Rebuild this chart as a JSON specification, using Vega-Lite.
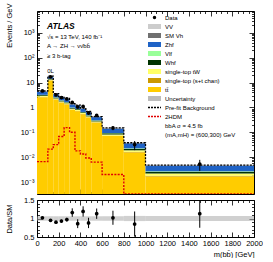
{
  "$schema": "https://vega.github.io/schema/vega-lite/v6.json",
  "padding": {"left": 4, "top": 2, "right": 0, "bottom": 0},
  "background": "white",
  "bounds": "flush",
  "spacing": 6,
  "config": {
    "view": {"stroke": "black", "strokeWidth": 1},
    "font": "Liberation Sans",
    "axis": {"labelFont": "Liberation Sans", "labelFontSize": 7.5, "labelColor": "black", "tickColor": "black", "tickWidth": 0.8, "domain": false, "grid": false, "titleFont": "Liberation Sans", "titleFontSize": 7.5, "titleFontWeight": "normal", "titleColor": "black", "labelFlush": false, "labelOverlap": false, "labelBound": false, "labelPadding": 8}
  },
  "datasets": {
    "bins": [
      {"lo": 0, "hi": 100, "c": 50, "data": 4.6, "derr": 0.135, "ratio": 1.02, "rerr": 0.03, "ulo": 4.23, "uhi": 4.77, "rlo": 0.94, "rhi": 1.06, "prefit": 4.6, "sig": 0.0066, "tt̄": 2.6, "single-top (s+t chan)": 0.09, "single-top tW": 0.225, "Whf": 0.225, "Vlf": 0.09, "Zhf": 1.18, "SM Vh": 0.045, "VV": 0.045},
      {"lo": 100, "hi": 150, "c": 125, "data": 17, "derr": 0.45, "ratio": 0.95, "rerr": 0.025, "ulo": 16.83, "uhi": 18.97, "rlo": 0.94, "rhi": 1.06, "prefit": 18.3, "sig": 0.021, "tt̄": 12.2, "single-top (s+t chan)": 0.36, "single-top tW": 0.72, "Whf": 0.72, "Vlf": 0.36, "Zhf": 3.18, "SM Vh": 0.18, "VV": 0.18, "note": "0L"},
      {"lo": 150, "hi": 200, "c": 175, "data": 3.2, "derr": 0.124, "ratio": 0.9, "rerr": 0.035, "ulo": 3.35, "uhi": 3.77, "rlo": 0.94, "rhi": 1.06, "prefit": 3.6, "sig": 0.032, "tt̄": 2.06, "single-top (s+t chan)": 0.07, "single-top tW": 0.18, "Whf": 0.18, "Vlf": 0.07, "Zhf": 0.93, "SM Vh": 0.036, "VV": 0.036},
      {"lo": 200, "hi": 250, "c": 225, "data": 2.5, "derr": 0.108, "ratio": 0.93, "rerr": 0.04, "ulo": 2.53, "uhi": 2.85, "rlo": 0.94, "rhi": 1.06, "prefit": 2.75, "sig": 0.068, "tt̄": 1.56, "single-top (s+t chan)": 0.054, "single-top tW": 0.135, "Whf": 0.135, "Vlf": 0.054, "Zhf": 0.70, "SM Vh": 0.027, "VV": 0.027},
      {"lo": 250, "hi": 300, "c": 275, "data": 2.2, "derr": 0.113, "ratio": 0.97, "rerr": 0.05, "ulo": 2.13, "uhi": 2.41, "rlo": 0.94, "rhi": 1.06, "prefit": 2.3, "sig": 0.155, "tt̄": 1.316, "single-top (s+t chan)": 0.045, "single-top tW": 0.114, "Whf": 0.114, "Vlf": 0.045, "Zhf": 0.59, "SM Vh": 0.023, "VV": 0.023},
      {"lo": 300, "hi": 350, "c": 325, "data": 1.6, "derr": 0.159, "ratio": 1.16, "rerr": 0.115, "ulo": 1.3, "uhi": 1.46, "rlo": 0.94, "rhi": 1.06, "prefit": 1.42, "sig": 0.1, "tt̄": 0.80, "single-top (s+t chan)": 0.028, "single-top tW": 0.069, "Whf": 0.069, "Vlf": 0.028, "Zhf": 0.358, "SM Vh": 0.014, "VV": 0.014},
      {"lo": 350, "hi": 400, "c": 375, "data": 1.05, "derr": 0.147, "ratio": 0.86, "rerr": 0.12, "ulo": 1.15, "uhi": 1.29, "rlo": 0.94, "rhi": 1.06, "prefit": 1.25, "sig": 0.018, "tt̄": 0.706, "single-top (s+t chan)": 0.024, "single-top tW": 0.061, "Whf": 0.061, "Vlf": 0.024, "Zhf": 0.32, "SM Vh": 0.012, "VV": 0.012},
      {"lo": 400, "hi": 450, "c": 425, "data": 1.1, "derr": 0.129, "ratio": 1.19, "rerr": 0.14, "ulo": 0.865, "uhi": 0.975, "rlo": 0.94, "rhi": 1.06, "prefit": 0.95, "sig": 0.0135, "tt̄": 0.534, "single-top (s+t chan)": 0.018, "single-top tW": 0.046, "Whf": 0.046, "Vlf": 0.018, "Zhf": 0.24, "SM Vh": 0.009, "VV": 0.009},
      {"lo": 450, "hi": 500, "c": 475, "data": 0.6, "derr": 0.095, "ratio": 0.88, "rerr": 0.14, "ulo": 0.64, "uhi": 0.72, "rlo": 0.94, "rhi": 1.06, "prefit": 0.7, "sig": 0.0093, "tt̄": 0.39, "single-top (s+t chan)": 0.014, "single-top tW": 0.034, "Whf": 0.034, "Vlf": 0.014, "Zhf": 0.18, "SM Vh": 0.007, "VV": 0.007},
      {"lo": 500, "hi": 600, "c": 550, "data": 0.48, "derr": 0.059, "ratio": 1.13, "rerr": 0.14, "ulo": 0.4, "uhi": 0.45, "rlo": 0.94, "rhi": 1.06, "prefit": 0.43, "sig": 0.0063, "tt̄": 0.2454, "single-top (s+t chan)": 0.0085, "single-top tW": 0.021, "Whf": 0.021, "Vlf": 0.0085, "Zhf": 0.112, "SM Vh": 0.0043, "VV": 0.0043},
      {"lo": 600, "hi": 800, "c": 700, "data": 0.15, "derr": 0.028, "ratio": 1.02, "rerr": 0.19, "ulo": 0.138, "uhi": 0.156, "rlo": 0.94, "rhi": 1.06, "prefit": 0.15, "sig": 0.002, "tt̄": 0.0704, "single-top (s+t chan)": 0.003, "single-top tW": 0.0088, "Whf": 0.0088, "Vlf": 0.003, "Zhf": 0.05, "SM Vh": 0.0015, "VV": 0.0015},
      {"lo": 800, "hi": 1000, "c": 900, "data": 0.032, "derr": 0.0128, "ratio": 0.85, "rerr": 0.34, "ulo": 0.0353, "uhi": 0.0399, "rlo": 0.93, "rhi": 1.07, "prefit": 0.038, "sig": 0.0001, "tt̄": 0.01555, "single-top (s+t chan)": 0.00075, "single-top tW": 0.0026, "Whf": 0.0026, "Vlf": 0.0011, "Zhf": 0.0142, "SM Vh": 0.0004, "VV": 0.0004},
      {"lo": 1000, "hi": 2000, "c": 1500, "data": 0.0053, "derr": 0.0025, "ratio": 1.13, "rerr": 0.38, "ulo": 0.0044, "uhi": 0.005, "rlo": 0.93, "rhi": 1.07, "prefit": 0.0048, "sig": 0.0001, "tt̄": 0.00168, "single-top (s+t chan)": 0.0001, "single-top tW": 0.00042, "Whf": 0.00038, "Vlf": 0.00014, "Zhf": 0.00188, "SM Vh": 0.00005, "VV": 0.00005}
    ]
  },
  "vconcat": [
    {
      "width": 217,
      "height": 183,
      "title": {"text": "ATLAS", "subtitle": ["√s = 13 TeV, 140 fb⁻¹", "A → ZH → νν̄bb̄", " ", "≥ 3 b-tag"], "anchor": "start", "frame": "group", "orient": "top", "font": "Liberation Sans", "fontSize": 8.5, "fontStyle": "italic", "fontWeight": "bold", "color": "black", "subtitleFont": "Liberation Sans", "subtitleFontSize": 6, "subtitleColor": "black", "subtitleLineHeight": 9.4, "subtitlePadding": 3, "offset": 0, "dx": 10, "dy": 65},
      "data": {"name": "bins"},
      "layer": [
        {
          "transform": [
            {"fold": ["tt̄", "single-top (s+t chan)", "single-top tW", "Whf", "Vlf", "Zhf", "SM Vh", "VV"], "as": ["proc", "v"]},
            {"window": [{"op": "row_number", "as": "k"}], "groupby": ["lo"]},
            {"stack": "v", "groupby": ["lo"], "sort": [{"field": "k", "order": "ascending"}], "as": ["v0", "v1"]}
          ],
          "mark": {"type": "bar", "clip": true},
          "encoding": {
            "x": {"field": "lo", "type": "quantitative", "scale": {"domain": [0, 2000], "nice": false, "zero": false},
                  "axis": {"orient": "bottom", "values": [0,50,100,150,200,250,300,350,400,450,500,550,600,650,700,750,800,850,900,950,1000,1050,1100,1150,1200,1250,1300,1350,1400,1450,1500,1550,1600,1650,1700,1750,1800,1850,1900,1950,2000], "labels": false, "title": null, "tickSize": {"condition": {"test": "datum.value % 200 == 0", "value": -5}, "value": -2.5}}},
            "x2": {"field": "hi"},
            "y": {"field": "v1", "type": "quantitative", "scale": {"type": "log", "domain": [0.00033, 7600], "clamp": true, "nice": false},
                  "axis": {"orient": "left", "values": [0.0004,0.0005,0.0006,0.0007,0.0008,0.0009,0.001,0.002,0.003,0.004,0.005,0.006,0.007,0.008,0.009,0.01,0.02,0.03,0.04,0.05,0.06,0.07,0.08,0.09,0.1,0.2,0.3,0.4,0.5,0.6,0.7,0.8,0.9,1,2,3,4,5,6,7,8,9,10,20,30,40,50,60,70,80,90,100,200,300,400,500,600,700,800,900,1000,2000,3000,4000,5000,6000,7000],
                           "labelExpr": "abs(log(datum.value)/LN10 - round(log(datum.value)/LN10)) < 0.01 ? (datum.value == 1 ? '1' : datum.value == 10 ? '10' : '10' + (datum.value < 1 ? '⁻' : '') + ['⁰','¹','²','³','⁴'][abs(round(log(datum.value)/LN10))]) : ''",
                           "tickSize": {"condition": {"test": "abs(log(datum.value)/LN10 - round(log(datum.value)/LN10)) < 0.01", "value": -5}, "value": -2.5},
                           "title": "Events / GeV", "titleX": -28, "titleY": -8, "titleAlign": "right", "titleBaseline": "middle", "titleAngle": 270}},
            "y2": {"field": "v0"},
            "color": {"field": "proc", "type": "nominal",
                      "scale": {"domain": ["Data", "VV", "SM Vh", "Zhf", "Vlf", "Whf", "single-top tW", "single-top (s+t chan)", "tt̄", "Uncertainty", "Pre-fit Background", "2HDM", "bbA σ = 4.5 fb", "(mA,mH) = (600,300) GeV"],
                                "range": ["black", "#cccccc", "#707070", "#1f63c6", "#99ff99", "#003300", "#ffff66", "#cc9900", "#ffcc00", "#bbbbbb", "black", "#e00000", "transparent", "transparent"]},
                      "legend": {"orient": "none", "legendX": 114, "legendY": 3, "title": null, "direction": "vertical", "gridAlign": "all", "labelFont": "Liberation Sans", "labelFontSize": 6, "labelColor": "black", "labelOffset": 7, "symbolSize": 25, "rowPadding": -4.8, "padding": 0, "labelLimit": 200,
                                 "encode": {"symbols": {"update": {
                                   "shape": {"signal": "datum.value == 'Data' ? 'circle' : (datum.value == 'Pre-fit Background' || datum.value == '2HDM') ? 'M-2.6,0H2.6' : (datum.value == 'bbA σ = 4.5 fb' || datum.value == '(mA,mH) = (600,300) GeV') ? 'M0,0' : 'M-2.6,-1H2.6V1H-2.6Z'"},
                                   "size": {"signal": "datum.value == 'Data' ? 12 : 25"},
                                   "stroke": {"signal": "datum.value == 'Pre-fit Background' ? 'black' : datum.value == '2HDM' ? '#e00000' : 'transparent'"},
                                   "strokeDash": {"signal": "(datum.value == 'Pre-fit Background' || datum.value == '2HDM') ? [2, 1] : [1, 0]"},
                                   "strokeWidth": {"value": 1.5},
                                   "fillOpacity": {"signal": "(datum.value == 'Pre-fit Background' || datum.value == '2HDM') ? 0 : 1"},
                                   "opacity": {"value": 1}
                                 }}}}}
          }
        },
        {
          "mark": {"type": "rect", "fill": "#bbbbbb", "opacity": 0.55, "clip": true},
          "encoding": {
            "x": {"field": "lo", "type": "quantitative", "scale": {"domain": [0, 2000], "nice": false, "zero": false},
                  "axis": {"orient": "top", "values": [0,50,100,150,200,250,300,350,400,450,500,550,600,650,700,750,800,850,900,950,1000,1050,1100,1150,1200,1250,1300,1350,1400,1450,1500,1550,1600,1650,1700,1750,1800,1850,1900,1950,2000], "labels": false, "title": null, "tickSize": {"condition": {"test": "datum.value % 200 == 0", "value": -5}, "value": -2.5}}},
            "x2": {"field": "hi"},
            "y": {"field": "ulo", "type": "quantitative", "scale": {"type": "log", "domain": [0.00033, 7600], "clamp": true, "nice": false},
                  "axis": {"orient": "right", "values": [0.0004,0.0005,0.0006,0.0007,0.0008,0.0009,0.001,0.002,0.003,0.004,0.005,0.006,0.007,0.008,0.009,0.01,0.02,0.03,0.04,0.05,0.06,0.07,0.08,0.09,0.1,0.2,0.3,0.4,0.5,0.6,0.7,0.8,0.9,1,2,3,4,5,6,7,8,9,10,20,30,40,50,60,70,80,90,100,200,300,400,500,600,700,800,900,1000,2000,3000,4000,5000,6000,7000], "labels": false, "title": null,
                           "tickSize": {"condition": {"test": "abs(log(datum.value)/LN10 - round(log(datum.value)/LN10)) < 0.01", "value": -5}, "value": -2.5}}},
            "y2": {"field": "uhi"}
          }
        },
        {
          "transform": [{"fold": ["lo", "hi"], "as": ["edgeKey", "edge"]}],
          "mark": {"type": "line", "color": "black", "strokeWidth": 1.3, "strokeDash": [2, 1.3], "clip": true},
          "encoding": {
            "x": {"field": "edge", "type": "quantitative", "scale": {"domain": [0, 2000], "nice": false, "zero": false}, "axis": null},
            "y": {"field": "prefit", "type": "quantitative", "scale": {"type": "log", "domain": [0.00033, 7600], "clamp": true, "nice": false}, "axis": null},
            "order": {"value": null}
          }
        },
        {
          "transform": [{"fold": ["lo", "hi"], "as": ["edgeKey", "edge"]}],
          "mark": {"type": "line", "color": "#e00000", "strokeWidth": 1.4, "strokeDash": [2, 1.3], "clip": true},
          "encoding": {
            "x": {"field": "edge", "type": "quantitative", "scale": {"domain": [0, 2000], "nice": false, "zero": false}, "axis": null},
            "y": {"field": "sig", "type": "quantitative", "scale": {"type": "log", "domain": [0.00033, 7600], "clamp": true, "nice": false}, "axis": null},
            "order": {"value": null}
          }
        },
        {
          "mark": {"type": "errorbar", "color": "black", "thickness": 1, "clip": true},
          "encoding": {
            "x": {"field": "c", "type": "quantitative", "scale": {"domain": [0, 2000], "nice": false, "zero": false}, "axis": null},
            "y": {"field": "data", "type": "quantitative", "scale": {"type": "log", "domain": [0.00033, 7600], "clamp": true, "nice": false}, "axis": null},
            "yError": {"field": "derr"}
          }
        },
        {
          "mark": {"type": "point", "filled": true, "shape": "circle", "size": 14, "color": "black", "opacity": 1},
          "encoding": {
            "x": {"field": "c", "type": "quantitative", "scale": {"domain": [0, 2000], "nice": false, "zero": false}, "axis": null},
            "y": {"field": "data", "type": "quantitative", "scale": {"type": "log", "domain": [0.00033, 7600], "clamp": true, "nice": false}, "axis": null}
          }
        },
        {
          "transform": [{"filter": "datum.note"}],
          "mark": {"type": "text", "font": "Liberation Sans", "fontSize": 6, "color": "black", "baseline": "bottom", "dy": -3},
          "encoding": {
            "x": {"field": "c", "type": "quantitative", "scale": {"domain": [0, 2000], "nice": false, "zero": false}, "axis": null},
            "y": {"field": "data", "type": "quantitative", "scale": {"type": "log", "domain": [0.00033, 7600], "clamp": true, "nice": false}, "axis": null},
            "text": {"field": "note"}
          }
        }
      ],
      "resolve": {"axis": {"x": "independent", "y": "independent"}}
    },
    {
      "width": 217,
      "height": 37,
      "data": {"name": "bins"},
      "layer": [
        {
          "mark": {"type": "rect", "fill": "#aaaaaa", "opacity": 0.55},
          "encoding": {
            "x": {"field": "lo", "type": "quantitative", "scale": {"domain": [0, 2000], "nice": false, "zero": false},
                  "axis": {"orient": "bottom", "values": [0,50,100,150,200,250,300,350,400,450,500,550,600,650,700,750,800,850,900,950,1000,1050,1100,1150,1200,1250,1300,1350,1400,1450,1500,1550,1600,1650,1700,1750,1800,1850,1900,1950,2000], "format": "d", "labelExpr": "datum.value % 200 == 0 ? datum.label : ''", "labelPadding": 7, "tickSize": {"condition": {"test": "datum.value % 200 == 0", "value": -5}, "value": -2.5},
                           "title": "m(bb̄) [GeV]", "titleX": 217, "titleY": 17, "titleAlign": "right", "titleBaseline": "middle"}},
            "x2": {"field": "hi"},
            "y": {"field": "rlo", "type": "quantitative", "scale": {"domain": [0.5, 1.5], "nice": false, "zero": false},
                  "axis": {"orient": "left", "values": [0.5,0.6,0.7,0.8,0.9,1,1.1,1.2,1.3,1.4,1.5], "labelExpr": "datum.value == 0.5 ? '0.5' : datum.value == 1 ? '1' : datum.value == 1.5 ? '1.5' : ''", "tickSize": {"condition": {"test": "datum.value == 0.5 || datum.value == 1 || datum.value == 1.5", "value": -5}, "value": -2.5},
                           "title": "Data/SM", "titleX": -28, "titleY": 18.5, "titleAlign": "center", "titleBaseline": "middle", "titleAngle": 270}},
            "y2": {"field": "rhi"}
          }
        },
        {
          "mark": {"type": "errorbar", "color": "black", "thickness": 1, "clip": true},
          "encoding": {
            "x": {"field": "c", "type": "quantitative", "scale": {"domain": [0, 2000], "nice": false, "zero": false}, "axis": null},
            "y": {"field": "ratio", "type": "quantitative", "scale": {"domain": [0.5, 1.5], "nice": false, "zero": false}, "axis": null},
            "yError": {"field": "rerr"}
          }
        },
        {
          "mark": {"type": "point", "filled": true, "shape": "circle", "size": 14, "color": "black", "opacity": 1},
          "encoding": {
            "x": {"field": "c", "type": "quantitative", "scale": {"domain": [0, 2000], "nice": false, "zero": false},
                  "axis": {"orient": "top", "values": [0,50,100,150,200,250,300,350,400,450,500,550,600,650,700,750,800,850,900,950,1000,1050,1100,1150,1200,1250,1300,1350,1400,1450,1500,1550,1600,1650,1700,1750,1800,1850,1900,1950,2000], "labels": false, "title": null, "tickSize": {"condition": {"test": "datum.value % 200 == 0", "value": -5}, "value": -2.5}}},
            "y": {"field": "ratio", "type": "quantitative", "scale": {"domain": [0.5, 1.5], "nice": false, "zero": false},
                  "axis": {"orient": "right", "values": [0.5,0.6,0.7,0.8,0.9,1,1.1,1.2,1.3,1.4,1.5], "labels": false, "title": null, "tickSize": {"condition": {"test": "datum.value == 0.5 || datum.value == 1 || datum.value == 1.5", "value": -5}, "value": -2.5}}}
          }
        }
      ],
      "resolve": {"axis": {"x": "independent", "y": "independent"}}
    }
  ]
}
